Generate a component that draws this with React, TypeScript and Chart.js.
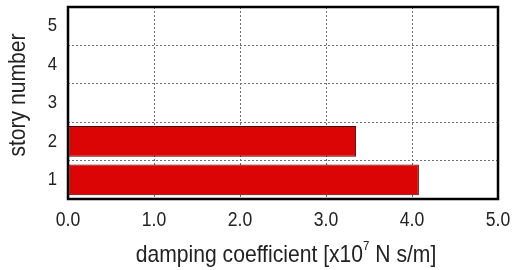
import React, { useEffect, useRef } from "react";
import { Chart, registerables } from "chart.js";

Chart.register(...registerables);

const stories = ["1", "2", "3", "4", "5"];
const damping = [4.08, 3.35, 0, 0, 0];
const xTicks = [0, 1, 2, 3, 4, 5];
const yTitle = "story number";
const xTitleMain = "damping coefficient [x10";
const xTitleSup = "7";
const xTitleEnd = " N s/m]";

const FONT = "'Liberation Sans', Arial, sans-serif";
const SX = 0.88; // horizontal condensing to mimic a narrow face

function narrowText(ctx: any, text: string, x: number, y: number, size: number, align: "left" | "center" | "right", baseline: any = "alphabetic") {
  ctx.save();
  ctx.font = `${size}px ${FONT}`;
  ctx.textBaseline = baseline;
  ctx.textAlign = align;
  ctx.translate(x, y);
  ctx.scale(SX, 1);
  ctx.fillText(text, 0, 0);
  ctx.restore();
}

function narrowWidth(ctx: any, text: string, size: number) {
  ctx.save();
  ctx.font = `${size}px ${FONT}`;
  const w = ctx.measureText(text).width * SX;
  ctx.restore();
  return w;
}

const framePlugin = {
  id: "frame",
  afterDraw(chart: any) {
    const { ctx, chartArea, scales } = chart;
    const { left, right, top, bottom } = chartArea;
    ctx.save();
    ctx.strokeStyle = "#000";
    ctx.lineWidth = 2.5;
    ctx.strokeRect(left, top, right - left, bottom - top);
    ctx.restore();

    ctx.save();
    ctx.fillStyle = "#222";
    xTicks.forEach((v) => {
      const px = scales.x.getPixelForValue(v);
      narrowText(ctx, v.toFixed(1), px, 226, 20, "center");
    });
    stories.forEach((s, i) => {
      const py = scales.y.getPixelForValue(i);
      narrowText(ctx, s, 57, py, 19, "right", "middle");
    });
    ctx.save();
    ctx.translate(25, 95);
    ctx.rotate(-Math.PI / 2);
    narrowText(ctx, yTitle, 0, 0, 24, "center");
    ctx.restore();
    const w1 = narrowWidth(ctx, xTitleMain, 24);
    const w2 = narrowWidth(ctx, xTitleSup, 13);
    const w3 = narrowWidth(ctx, xTitleEnd, 24);
    const total = w1 + w2 + w3;
    const cx = 286;
    let x = cx - total / 2;
    const y = 262;
    narrowText(ctx, xTitleMain, x, y, 24, "left");
    x += w1;
    narrowText(ctx, xTitleSup, x, y - 12.5, 13, "left");
    x += w2;
    narrowText(ctx, xTitleEnd, x, y, 24, "left");
    ctx.restore();
  },
};

export default function App() {
  const ref = useRef<HTMLCanvasElement>(null);
  useEffect(() => {
    if (!ref.current) return;
    const chart = new Chart(ref.current, {
      type: "bar",
      data: {
        labels: stories,
        datasets: [
          {
            data: damping,
            backgroundColor: "#dc0505",
            borderColor: "#4a0000",
            borderWidth: 1,
            borderSkipped: false,
            barPercentage: 0.8,
            categoryPercentage: 1,
          },
        ],
      },
      options: {
        indexAxis: "y",
        animation: false,
        responsive: false,
        maintainAspectRatio: false,
        layout: { padding: { top: 7, right: 14, left: 0, bottom: 0 } },
        plugins: { legend: { display: false }, tooltip: { enabled: false } },
        scales: {
          x: {
            type: "linear",
            min: 0,
            max: 5,
            afterBuildTicks: (axis: any) => {
              axis.ticks = xTicks.map((v) => ({ value: v }));
            },
            afterFit: (axis: any) => {
              axis.height = 71;
              axis.paddingLeft = 0;
              axis.paddingRight = 0;
              axis.paddingTop = 0;
              axis.paddingBottom = 0;
            },
            ticks: { display: false },
            grid: {
              color: "#707070",
              lineWidth: 1,
              drawTicks: false,
            },
            border: { display: false, dash: [2, 2] },
          },
          y: {
            type: "category",
            reverse: true,
            afterFit: (axis: any) => {
              axis.width = 68;
              axis.paddingLeft = 0;
              axis.paddingRight = 0;
              axis.paddingTop = 0;
              axis.paddingBottom = 0;
            },
            ticks: { display: false },
            grid: {
              color: "#707070",
              lineWidth: 1,
              drawTicks: false,
              offset: true,
            },
            border: { display: false, dash: [2, 2] },
          },
        },
      },
      plugins: [framePlugin],
    } as any);
    return () => chart.destroy();
  }, []);
  return (
    <div style={{ position: "absolute", left: 0, top: 0, width: 512, height: 270, background: "#fff" }}>
      <canvas ref={ref} width={512} height={270} style={{ width: 512, height: 270 }} />
    </div>
  );
}
